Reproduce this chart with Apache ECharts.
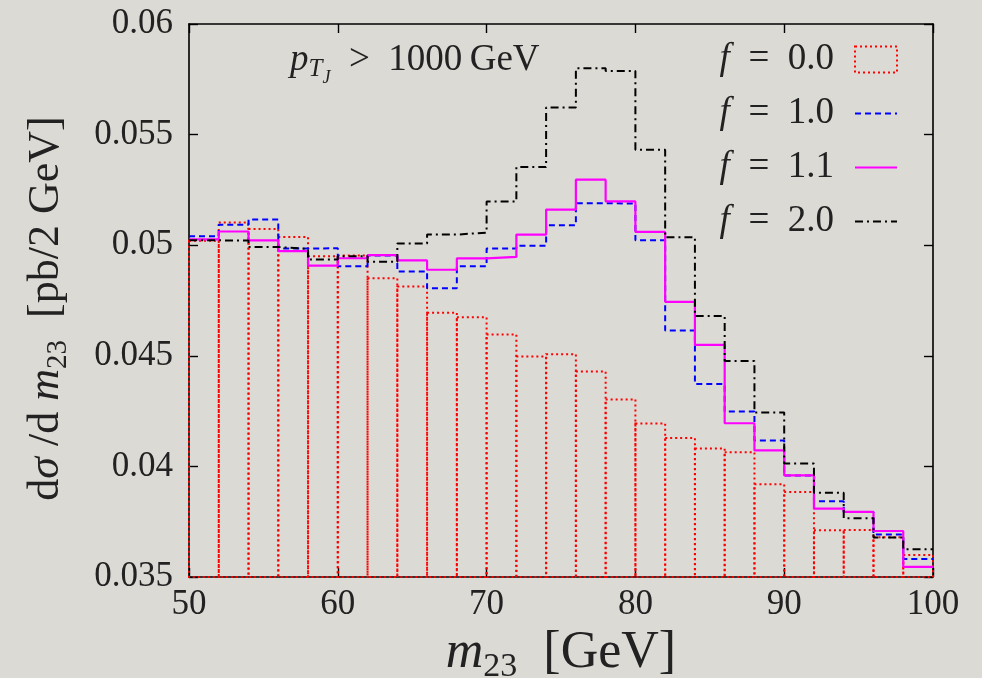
<!DOCTYPE html>
<html><head><meta charset="utf-8">
<script src="https://cdn.jsdelivr.net/npm/echarts@6/dist/echarts.min.js"></script>
<style>html,body{margin:0;padding:0;background:#dcdad5;} #c{width:982px;height:678px;}</style>
</head><body><div id="c"></div>
<script>
// Bin edges of m23 [GeV] (2 GeV bins)
const binEdges = [50,52,54,56,58,60,62,64,66,68,70,72,74,76,78,80,82,84,86,88,90,92,94,96,98,100];
const seriesNames = ['f = 0.0', 'f = 1.0', 'f = 1.1', 'f = 2.0'];
const xTicks = [50, 60, 70, 80, 90, 100];
const yTicks = [0.035, 0.04, 0.045, 0.05, 0.055, 0.06];
// dσ/dm23 per bin
const f00 = [0.0502, 0.05103, 0.05073, 0.05037, 0.0495, 0.04953, 0.04851, 0.04813, 0.04695, 0.04674, 0.04596, 0.04497, 0.04507, 0.04429, 0.04303, 0.04194, 0.04128, 0.04081, 0.04064, 0.03919, 0.03884, 0.03711, 0.03713, 0.0368, 0.03599];
const f10 = [0.0504, 0.05093, 0.05116, 0.04985, 0.04986, 0.04905, 0.04953, 0.04881, 0.04805, 0.04905, 0.04985, 0.04997, 0.0509, 0.0519, 0.05188, 0.05022, 0.04614, 0.04372, 0.04248, 0.04117, 0.03959, 0.03842, 0.03794, 0.03692, 0.03581];
const f11 = [0.05026, 0.05062, 0.05022, 0.04973, 0.04908, 0.04941, 0.04955, 0.04931, 0.04889, 0.0494, 0.04947, 0.05048, 0.05161, 0.05296, 0.05198, 0.0506, 0.04744, 0.04549, 0.04195, 0.04072, 0.03959, 0.03809, 0.03794, 0.03708, 0.03546];
const f20 = [0.05022, 0.05021, 0.04992, 0.04983, 0.04935, 0.0495, 0.04925, 0.05008, 0.05048, 0.05057, 0.05198, 0.05353, 0.05623, 0.058, 0.05788, 0.05432, 0.05036, 0.0468, 0.04476, 0.04244, 0.04013, 0.03881, 0.03766, 0.03679, 0.03626];

const FONT = 'Liberation Serif';
const TXT = '#222';
const xMin = xTicks[0], xMax = xTicks[xTicks.length - 1];
const yMin = yTicks[0], yMax = yTicks[yTicks.length - 1];

function stepData(vals) {
  const d = vals.map((v, i) => [binEdges[i], v]);
  d.push([binEdges[vals.length], vals[vals.length - 1]]);
  return d;
}
const redData = f00.map((v, i) => [binEdges[i], binEdges[i + 1], v]);

const chart = echarts.init(document.getElementById('c'));

const axisLineStyle = { show: true, onZero: false, lineStyle: { color: '#000', width: 1.6 } };
const tickStyle = { show: true, inside: true, length: 9, lineStyle: { color: '#000', width: 1.4 } };
const hiddenSym = { color: 'rgba(0,0,0,0)', opacity: 0, borderWidth: 0 };

const option = {
  backgroundColor: '#dcdad5',
  animation: false,
  grid: { left: 189, right: 49, top: 24, bottom: 101, containLabel: false, outerBoundsMode: 'none' },
  xAxis: [
    {
      type: 'value', min: xMin, max: xMax, interval: 10, position: 'bottom',
      axisLine: axisLineStyle, axisTick: tickStyle, splitLine: { show: false },
      axisLabel: { color: TXT, fontFamily: FONT, fontSize: 35, margin: 10 },
      name: '{i|m}{s|23}  [GeV]', nameLocation: 'middle', nameGap: 36,
      nameTextStyle: {
        color: TXT, fontFamily: FONT, fontSize: 52,
        rich: {
          i: { fontFamily: FONT, fontStyle: 'italic', fontSize: 52, color: TXT },
          s: { fontFamily: FONT, fontSize: 34, color: TXT, padding: [28, 0, 0, 0] }
        }
      }
    },
    {
      type: 'value', min: xMin, max: xMax, interval: 10, position: 'top',
      axisLine: axisLineStyle, axisTick: tickStyle, splitLine: { show: false },
      axisLabel: { show: false }
    }
  ],
  yAxis: [
    {
      type: 'value', min: yMin, max: yMax, interval: 0.005, position: 'left',
      axisLine: axisLineStyle, axisTick: tickStyle, splitLine: { show: false },
      axisLabel: { color: TXT, fontFamily: FONT, fontSize: 35, margin: 16,
        formatter: v => String(+v.toFixed(3)) },
      name: 'd{i|σ} /d {i|m}{s|23}  [pb/2 GeV]', nameLocation: 'middle', nameGap: 116, nameRotate: 90,
      nameTextStyle: {
        color: TXT, fontFamily: FONT, fontSize: 44, padding: [0, 16, 0, 0],
        rich: {
          i: { fontFamily: FONT, fontStyle: 'italic', fontSize: 44, color: TXT },
          s: { fontFamily: FONT, fontSize: 29, color: TXT, padding: [24, 0, 0, 0] }
        }
      }
    },
    {
      type: 'value', min: yMin, max: yMax, interval: 0.005, position: 'right',
      axisLine: axisLineStyle, axisTick: tickStyle, splitLine: { show: false },
      axisLabel: { show: false }
    }
  ],
  legend: {
    orient: 'vertical', right: 79, top: 36, align: 'right',
    itemWidth: 42, itemHeight: 26, itemGap: 17,
    data: [
      { name: seriesNames[0], icon: 'rect',
        itemStyle: { color: 'rgba(0,0,0,0)', borderColor: '#ff0000', borderWidth: 2, borderType: [2, 3] } },
      { name: seriesNames[1], itemStyle: hiddenSym },
      { name: seriesNames[2], itemStyle: hiddenSym },
      { name: seriesNames[3], itemStyle: hiddenSym }
    ],
    formatter: name => '{i|f}\u2002=\u2002' + name.slice(4),
    textStyle: {
      color: TXT, fontFamily: FONT, fontSize: 37, padding: [0, 16, 0, 0],
      rich: { i: { fontFamily: FONT, fontStyle: 'italic', fontSize: 37, color: TXT } }
    }
  },
  graphic: [{
    type: 'text', left: 290, top: 42, z: 10,
    style: {
      text: '{i|p}{s|T}{ss|J}\u2002>\u20021000\u2009GeV',
      fontFamily: FONT, fontSize: 37, fill: TXT,
      rich: {
        i: { fontFamily: FONT, fontStyle: 'italic', fontSize: 37, fill: TXT },
        s: { fontFamily: FONT, fontStyle: 'italic', fontSize: 25, fill: TXT, padding: [18, 0, 0, 0] },
        ss: { fontFamily: FONT, fontStyle: 'italic', fontSize: 18, fill: TXT, padding: [36, 0, 0, 0] }
      }
    }
  }],
  series: [
    {
      name: seriesNames[0], type: 'custom', xAxisIndex: 0, yAxisIndex: 0,
      itemStyle: { color: 'rgba(0,0,0,0)', borderColor: '#ff0000', borderWidth: 2, borderType: [2, 3] },
      encode: { x: [0, 1], y: 2 },
      renderItem: function (params, api) {
        const p0 = api.coord([api.value(0), api.value(2)]);
        const p1 = api.coord([api.value(1), yMin]);
        return {
          type: 'rect',
          shape: { x: p0[0], y: p0[1], width: p1[0] - p0[0], height: p1[1] - p0[1] },
          style: { fill: 'none', stroke: '#ff0000', lineWidth: 2, lineDash: [2, 3] }
        };
      },
      data: redData, z: 1
    },
    {
      name: seriesNames[1], type: 'line', step: 'end', symbol: 'none',
      lineStyle: { color: '#0000ff', width: 2, type: [6, 4] }, itemStyle: { color: '#0000ff' },
      data: stepData(f10), z: 2
    },
    {
      name: seriesNames[2], type: 'line', step: 'end', symbol: 'none',
      lineStyle: { color: '#ff00ff', width: 2.2, type: 'solid' }, itemStyle: { color: '#ff00ff' },
      data: stepData(f11), z: 3
    },
    {
      name: seriesNames[3], type: 'line', step: 'end', symbol: 'none',
      lineStyle: { color: '#000000', width: 2, type: [8, 4, 2, 4] }, itemStyle: { color: '#000000' },
      data: stepData(f20), z: 4
    }
  ]
};
chart.setOption(option);
</script>
</body></html>
